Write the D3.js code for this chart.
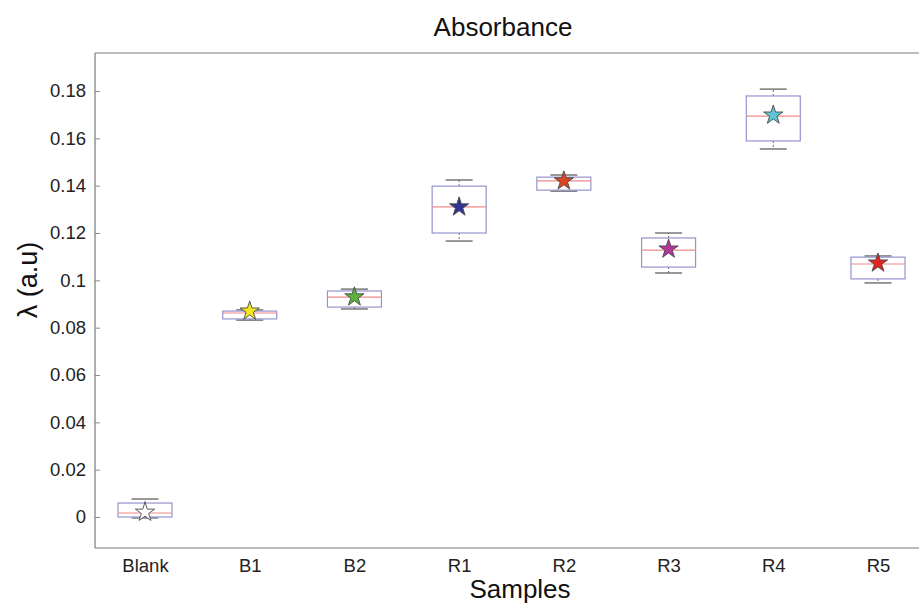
<!DOCTYPE html>
<html>
<head>
<meta charset="utf-8">
<script src="https://cdn.jsdelivr.net/npm/d3@7"></script>
<style>
    body { margin: 0; background: #fff; }
    svg { display: block; font-family: "Liberation Sans", Arial, sans-serif; }
</style>
</head>
<body>
<div class="box-chart-container"></div>
<script>
/* 資料 */
const samples = ["Blank", "B1", "B2", "R1", "R2", "R3", "R4", "R5"];
const whiskerLow  = [-0.0004, 0.0832, 0.0879, 0.1166, 0.1377, 0.1031, 0.1555, 0.0989];
const q1          = [0.0000, 0.0837, 0.0887, 0.1200, 0.1381, 0.1056, 0.1589, 0.1006];
const median      = [0.0017, 0.0862, 0.0929, 0.1310, 0.1420, 0.1128, 0.1694, 0.1069];
const q3          = [0.0059, 0.0870, 0.0955, 0.1398, 0.1436, 0.1179, 0.1779, 0.1098];
const whiskerHigh = [0.0076, 0.0875, 0.0963, 0.1424, 0.1445, 0.1200, 0.1808, 0.1103];
const meanValues  = [0.0020, 0.0870, 0.0930, 0.1310, 0.1420, 0.1132, 0.1698, 0.1073];
const yTicks = [0, 0.02, 0.04, 0.06, 0.08, 0.1, 0.12, 0.14, 0.16, 0.18];
const yTickLabels = ["0", "0.02", "0.04", "0.06", "0.08", "0.1", "0.12", "0.14", "0.16", "0.18"];

const starColors = ["#ffffff", "#f4e521", "#5bb33a", "#2f3591", "#dc4320", "#b2379a", "#5ec5d6", "#e2231f"];

/* 建構svg */
const svg_width = 919;
const svg_height = 605;
const frame = { left: 95, right: 932, top: 53, bottom: 548 };

const svg = d3.select(".box-chart-container").append("svg")
    .attr("width", svg_width)
    .attr("height", svg_height);

/* scale */
const xScale = d3.scalePoint().domain(samples).range([145, 878]);
const yScale = d3.scaleLinear().domain([0, 0.18]).range([517, 91]);
const boxWidth = 54;
const capWidth = 27;

const rows = samples.map((s, i) => ({
    name: s, lo: whiskerLow[i], q1: q1[i], med: median[i], q3: q3[i],
    hi: whiskerHigh[i], mean: meanValues[i], color: starColors[i]
}));

/* frame */
svg.append("line").attr("x1", frame.left).attr("x2", frame.right)
    .attr("y1", frame.top).attr("y2", frame.top)
    .attr("stroke", "#a8a8a8").attr("stroke-width", 1.5);
svg.append("line").attr("x1", frame.left).attr("x2", frame.right)
    .attr("y1", frame.bottom).attr("y2", frame.bottom)
    .attr("stroke", "#7a7a7a").attr("stroke-width", 1.2);
svg.append("line").attr("x1", frame.left).attr("x2", frame.left)
    .attr("y1", frame.top).attr("y2", frame.bottom)
    .attr("stroke", "#7a7a7a").attr("stroke-width", 1.2);

/* y axis */
const yAxis = d3.axisLeft(yScale)
    .tickValues(yTicks)
    .tickFormat((d, i) => yTickLabels[i])
    .tickSizeInner(-5).tickSizeOuter(0).tickPadding(9);
const yAxisDraw = svg.append("g").attr("class", "y axis")
    .attr("transform", `translate(${frame.left},0)`)
    .call(yAxis);
yAxisDraw.select(".domain").remove();
yAxisDraw.selectAll(".tick line").attr("stroke", "#8a8a8a");
yAxisDraw.selectAll(".tick text")
    .attr("font-size", "18.5px").attr("fill", "#222")
    .attr("font-family", "'Liberation Sans', Arial, sans-serif");

/* x axis */
const xAxis = d3.axisBottom(xScale).tickSize(0).tickPadding(11);
const xAxisDraw = svg.append("g").attr("class", "x axis")
    .attr("transform", `translate(0,${frame.bottom})`)
    .call(xAxis);
xAxisDraw.select(".domain").remove();
xAxisDraw.selectAll(".tick text")
    .attr("font-size", "18.5px").attr("fill", "#222")
    .attr("font-family", "'Liberation Sans', Arial, sans-serif");

/* boxes */
const boxGroup = svg.append("g").attr("class", "boxes")
    .selectAll("g").data(rows).join("g")
    .attr("transform", d => `translate(${xScale(d.name)},0)`);

// whisker (虛線)
boxGroup.append("line")
    .attr("x1", 0).attr("x2", 0)
    .attr("y1", d => yScale(d.q3)).attr("y2", d => yScale(d.hi))
    .attr("stroke", "#666").attr("stroke-dasharray", "2,2");
boxGroup.append("line")
    .attr("x1", 0).attr("x2", 0)
    .attr("y1", d => yScale(d.q1)).attr("y2", d => yScale(d.lo))
    .attr("stroke", "#666").attr("stroke-dasharray", "2,2");

// caps
boxGroup.append("line")
    .attr("x1", -capWidth / 2).attr("x2", capWidth / 2)
    .attr("y1", d => yScale(d.hi)).attr("y2", d => yScale(d.hi))
    .attr("stroke", "#555").attr("stroke-width", 1.2);
boxGroup.append("line")
    .attr("x1", -capWidth / 2).attr("x2", capWidth / 2)
    .attr("y1", d => yScale(d.lo)).attr("y2", d => yScale(d.lo))
    .attr("stroke", "#555").attr("stroke-width", 1.2);

// box
boxGroup.append("rect")
    .attr("x", -boxWidth / 2).attr("width", boxWidth)
    .attr("y", d => yScale(d.q3))
    .attr("height", d => yScale(d.q1) - yScale(d.q3))
    .attr("fill", "none").attr("stroke", "#9494cf").attr("stroke-width", 1.2);

// median
boxGroup.append("line")
    .attr("x1", -boxWidth / 2).attr("x2", boxWidth / 2)
    .attr("y1", d => yScale(d.med)).attr("y2", d => yScale(d.med))
    .attr("stroke", "#f08a8a").attr("stroke-width", 1.2);

// mean star
const star = d3.symbol().type(d3.symbolStar).size(115);
boxGroup.append("path")
    .attr("d", star)
    .attr("transform", d => `translate(0,${yScale(d.mean)})`)
    .attr("fill", d => d.color)
    .attr("stroke", "#4a4a4a").attr("stroke-width", 0.9);

/* titles */
svg.append("text").attr("x", 503).attr("y", 36)
    .attr("text-anchor", "middle").attr("font-size", "26px").attr("fill", "#111")
    .text("Absorbance");
svg.append("text").attr("x", 520).attr("y", 598)
    .attr("text-anchor", "middle").attr("font-size", "26px").attr("fill", "#111")
    .text("Samples");
svg.append("text")
    .attr("transform", "translate(37,280) rotate(-90)")
    .attr("text-anchor", "middle").attr("font-size", "27px").attr("fill", "#111")
    .text("λ (a.u)");
</script>
</body>
</html>
